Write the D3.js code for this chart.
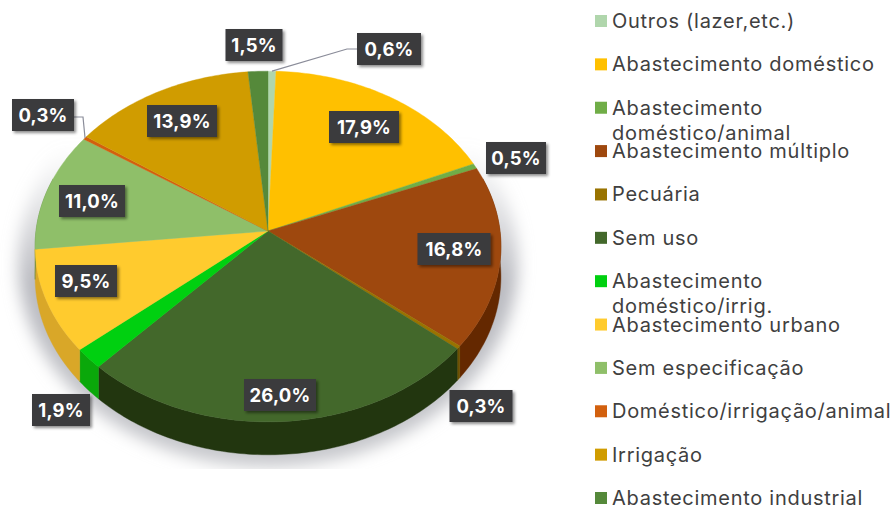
<!DOCTYPE html>
<html>
<head>
<meta charset="utf-8">
<script src="https://cdn.jsdelivr.net/npm/d3@7"></script>
<style>
  html, body { margin: 0; padding: 0; background: #fff; }
  svg { display: block; }
  .legend text { font-family: "Inter", sans-serif; font-size: 20px; letter-spacing: 0.72px; fill: #404040; }
  .tag text { font-family: "Inter", sans-serif; font-size: 18.5px; font-weight: 700; letter-spacing: 0.2px; fill: #fff; }
</style>
</head>
<body>
<div id="my_dataviz"></div>
<script>
// values as printed on the chart, clockwise from the top
const categories = ["Outros (lazer,etc.)", "Abastecimento doméstico", "Abastecimento doméstico/animal",
  "Abastecimento múltiplo", "Pecuária", "Sem uso", "Abastecimento doméstico/irrig.", "Abastecimento urbano",
  "Sem especificação", "Doméstico/irrigação/animal", "Irrigação", "Abastecimento industrial"];
const values = [0.6, 17.9, 0.5, 16.8, 0.3, 26.0, 1.9, 9.5, 11.0, 0.3, 13.9, 1.5];
const valueLabels = ["0,6%", "17,9%", "0,5%", "16,8%", "0,3%", "26,0%", "1,9%", "9,5%", "11,0%", "0,3%", "13,9%", "1,5%"];

const colors = ["#b0d6ac", "#ffc000", "#70ad47", "#9e480e", "#997300", "#43682b",
  "#00d010", "#ffcb2e", "#8fbf69", "#d2600e", "#d09c00", "#55893a"];
const wallColors = ["#7f9c7c", "#b58800", "#4a7a2e", "#642800", "#6b5000", "#22360f",
  "#0aa80a", "#d9a728", "#5f8a45", "#8f3f08", "#93700a", "#38592a"];

// label boxes, centre x / centre y / width
const tagLayout = [[389, 49, 64], [364, 127, 70], [516, 158, 60], [454, 249, 73], [481, 406, 63], [280, 395, 72],
  [61, 410, 58], [86, 281, 62], [92, 201, 66], [43, 115, 62], [182, 121, 70], [254, 45, 57]];

const width = 895, height = 508;
const cx = 268, cy = 231;
const tilt = -0.0884; // perspective, the near edge of the disc is bigger
const depth = 30;

let x = d3.scaleLinear().domain([-1, 1]).range([cx - 232, cx + 232]);
let y = d3.scaleLinear().domain([-1, 1]).range([cy - 174, cy + 174]);

function project(a, r) {
  const u = r * Math.sin(a), v = -r * Math.cos(a), w = 1 + tilt * v;
  return [x(u / w), y(v / w), depth / w];
}

let svg = d3.select("#my_dataviz")
  .append("svg")
  .attr("width", width)
  .attr("height", height);

const defs = svg.append("defs");
defs.append("filter").attr("id", "soft").attr("x", "-20%").attr("y", "-20%").attr("width", "140%").attr("height", "140%")
  .append("feGaussianBlur").attr("stdDeviation", 8);
const tagShadow = defs.append("filter").attr("id", "tagShadow").attr("x", "-20%").attr("y", "-20%").attr("width", "150%").attr("height", "150%");
tagShadow.append("feDropShadow").attr("dx", 2).attr("dy", 2).attr("stdDeviation", 1.5).attr("flood-color", "#000").attr("flood-opacity", 0.45);
defs.append("clipPath").attr("id", "shadowClip").append("rect").attr("width", width).attr("height", 469);
const fade = defs.append("linearGradient").attr("id", "shadowFade").attr("x1", 0).attr("x2", 0).attr("y1", 0).attr("y2", 1);
fade.append("stop").attr("offset", "0.22").attr("stop-color", "#c4c5ca").attr("stop-opacity", 0);
fade.append("stop").attr("offset", "0.55").attr("stop-color", "#b9bac0");
fade.append("stop").attr("offset", "1").attr("stop-color", "#c9cace");

// shadow under the disc
svg.append("g").attr("clip-path", "url(#shadowClip)")
  .append("ellipse")
  .attr("cx", cx).attr("cy", 262)
  .attr("rx", 250).attr("ry", 205)
  .attr("fill", "url(#shadowFade)")
  .attr("filter", "url(#soft)");

const pie = d3.pie().sort(null).value(d => d);
const slices = pie(values);
const line = d3.line();
const step = Math.PI / 180;

function arcAngles(a0, a1) {
  const n = Math.max(2, Math.ceil((a1 - a0) / step));
  return d3.range(n + 1).map(i => a0 + (a1 - a0) * i / n);
}

// side wall, only the part facing the viewer
const wallFrom = Math.PI * 0.4, wallTo = Math.PI * 1.6;
svg.append("g").selectAll("path")
  .data(slices.filter(d => d.endAngle > wallFrom && d.startAngle < wallTo))
  .enter()
  .append("path")
  .attr("d", d => {
    const pts = arcAngles(Math.max(d.startAngle, wallFrom), Math.min(d.endAngle, wallTo)).map(a => project(a, 1));
    const outer = pts.map(p => [p[0], p[1]]);
    const lower = pts.map(p => [p[0], p[1] + p[2]]).reverse();
    return line(outer.concat(lower)) + "Z";
  })
  .attr("fill", d => wallColors[d.index])
  .attr("stroke", d => wallColors[d.index])
  .attr("stroke-width", 0.4);

// top face
svg.append("g").selectAll("path")
  .data(slices)
  .enter()
  .append("path")
  .attr("d", d => {
    const rim = arcAngles(d.startAngle, d.endAngle).map(a => project(a, 1).slice(0, 2));
    return line([[x(0), y(0)]].concat(rim)) + "Z";
  })
  .attr("fill", d => colors[d.index])
  .attr("stroke", d => colors[d.index])
  .attr("stroke-width", 0.4);

// leader lines for the two thin slices that have one
const leaders = [
  { i: 0, box: [357, 49], elbow: [347, 49] },
  { i: 9, box: [74, 117], elbow: [83, 117] }
];
svg.append("g").selectAll("path")
  .data(leaders)
  .enter()
  .append("path")
  .attr("d", d => {
    const s = slices[d.i];
    const p = project((s.startAngle + s.endAngle) / 2, 1);
    return line([d.box, d.elbow, [p[0], p[1]]]);
  })
  .attr("fill", "none")
  .attr("stroke", "#8a8c99")
  .attr("stroke-width", 1.2);

// value tags
const tags = svg.append("g").attr("class", "tag").selectAll("g")
  .data(valueLabels)
  .enter()
  .append("g")
  .attr("transform", (d, i) => "translate(" + tagLayout[i][0] + "," + tagLayout[i][1] + ")");
tags.append("rect")
  .attr("x", (d, i) => -tagLayout[i][2] / 2)
  .attr("y", -16)
  .attr("width", (d, i) => tagLayout[i][2])
  .attr("height", 32)
  .attr("fill", "#3b3b3e")
  .attr("filter", "url(#tagShadow)");
tags.append("text")
  .attr("text-anchor", "middle")
  .attr("dy", "0.36em")
  .text(d => d);

// legend, evenly spaced
let legendY = d3.scalePoint().domain(categories).range([21, 498]);
const wrapped = {
  "Abastecimento doméstico/animal": ["Abastecimento", "doméstico/animal"],
  "Abastecimento doméstico/irrig.": ["Abastecimento", "doméstico/irrig."]
};
const legend = svg.append("g").attr("class", "legend").selectAll("g")
  .data(categories)
  .enter()
  .append("g")
  .attr("transform", d => "translate(595," + legendY(d) + ")");
legend.append("rect")
  .attr("y", -6)
  .attr("width", 12)
  .attr("height", 12)
  .attr("fill", (d, i) => colors[i]);
legend.selectAll("text")
  .data(d => wrapped[d] || [d])
  .enter()
  .append("text")
  .attr("x", 17)
  .attr("y", (d, i) => i * 25)
  .attr("dy", "0.35em")
  .text(d => d);
</script>
</body>
</html>
